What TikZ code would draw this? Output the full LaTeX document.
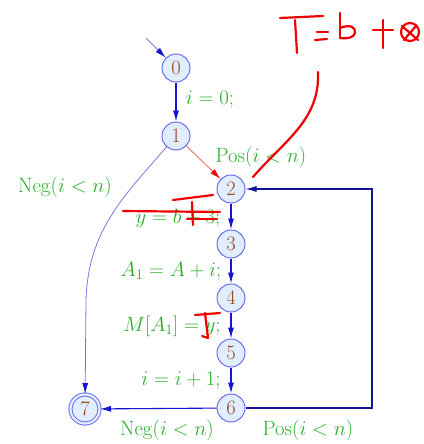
\documentclass[tikz,border=0pt]{standalone}
\usetikzlibrary{arrows.meta}
\definecolor{nodeb}{RGB}{110,110,235}
\definecolor{nodef}{RGB}{225,238,255}
\definecolor{numc}{RGB}{150,70,30}
\definecolor{labc}{RGB}{40,175,40}
\definecolor{edgec}{RGB}{20,20,210}
\definecolor{loopc}{RGB}{20,20,150}
\definecolor{thinc}{RGB}{120,120,225}
\definecolor{redl}{RGB}{250,110,110}
\definecolor{hand}{RGB}{240,0,0}
\begin{document}
\begin{tikzpicture}[x=1pt,y=-1pt,
  st/.style={circle, draw=nodeb, fill=nodef, text=numc, minimum size=28pt, inner sep=0pt,
     font=\fontsize{20.5}{24}\selectfont, line width=1pt},
  fin/.style={st, double=nodef, double distance=2.2pt, minimum size=29pt},
  lbl/.style={text=labc, font=\fontsize{21.5}{25}\selectfont, inner sep=0pt},
  tip/.style={-{Latex[length=11pt,width=6pt]}},
  ed/.style={tip, draw=edgec, line width=1.1pt},
  handw/.style={draw=hand, line width=2.2pt, line cap=round, line join=round}]
\useasboundingbox (0,0) rectangle (423,444);

\node[st] (n0) at (176,68) {0};
\node[st] (n1) at (176,136) {1};
\node[st] (n2) at (231,189) {2};
\node[st] (n3) at (231,244) {3};
\node[st] (n4) at (231,298) {4};
\node[st] (n5) at (231,353) {5};
\node[st] (n6) at (231,408) {6};
\node[fin] (n7) at (85,409) {7};

\coordinate (init) at (146,38);
\coordinate (rc) at (372,408);

\draw[draw=thinc, line width=0.9pt, -{Latex[length=11pt,width=6pt,color=edgec]}] (init) -- (n0);
\draw[ed] (n0) -- (n1);
\draw[redl, line width=0.9pt, -{Latex[length=11pt,width=6pt,color=hand]}] (n1) -- (n2);
\draw[ed] (n2) -- (n3);
\draw[ed] (n3) -- (n4);
\draw[ed] (n4) -- (n5);
\draw[ed] (n5) -- (n6);
\draw[ed] (n6) -- (n7);
\draw[tip, draw=loopc, line width=1.2pt] (n6) -- (rc) |- (n2);
\draw[thinc, line width=0.8pt, -{Latex[length=11pt,width=6pt,color=edgec]}]
  (n1) .. controls (125,195) and (88,230) .. (86,300) -- (n7);

\node[lbl] (l01) at (210,100) {$i=0;$};
\node[lbl] (l12) at (261,157) {$\mathrm{Pos}(i<n)$};
\node[lbl] (l17) at (65,187) {$\mathrm{Neg}(i<n)$};
\node[lbl] (l23) at (178,218) {$y=b+3;$};
\node[lbl] (l34) at (171,271) {$A_1=A+i;$};
\node[lbl] (l45) at (172,326) {$M[A_1]=y;$};
\node[lbl] (l56) at (181,381) {$i=i+1;$};
\node[lbl] (l67) at (167,430) {$\mathrm{Neg}(i<n)$};
\node[lbl] (l62) at (308,430) {$\mathrm{Pos}(i<n)$};

% handwritten annotations
\draw[handw] (280,18) -- (323,16);
\draw[handw] (295,20) -- (297,53);
\draw[handw] (317,32) -- (328,32);
\draw[handw] (315,40) -- (327,39);
\draw[handw] (340,13) -- (340,38);
\draw[handw] (340,28) .. controls (350,24) and (356,27) .. (355,33) .. controls (354,38) and (346,39) .. (340,38);
\draw[handw] (373,30) -- (393,30);
\draw[handw] (383,20) -- (383,48);
\draw[handw] (410,32) circle (9);
\draw[handw] (402,26) -- (418,40);
\draw[handw] (404,40) -- (416,26);
\draw[handw] (318,72) .. controls (320,120) and (285,140) .. (253,177);
\draw[handw] (123,211) -- (220,212);
\draw[handw] (173,200) -- (213,195);
\draw[handw] (192,202) -- (193,225);
\draw[handw] (187,219) -- (217,219);
\draw[handw] (195,315) -- (220,313);
\draw[handw] (205,313) -- (208,338) -- (202,336);
\end{tikzpicture}
\end{document}
